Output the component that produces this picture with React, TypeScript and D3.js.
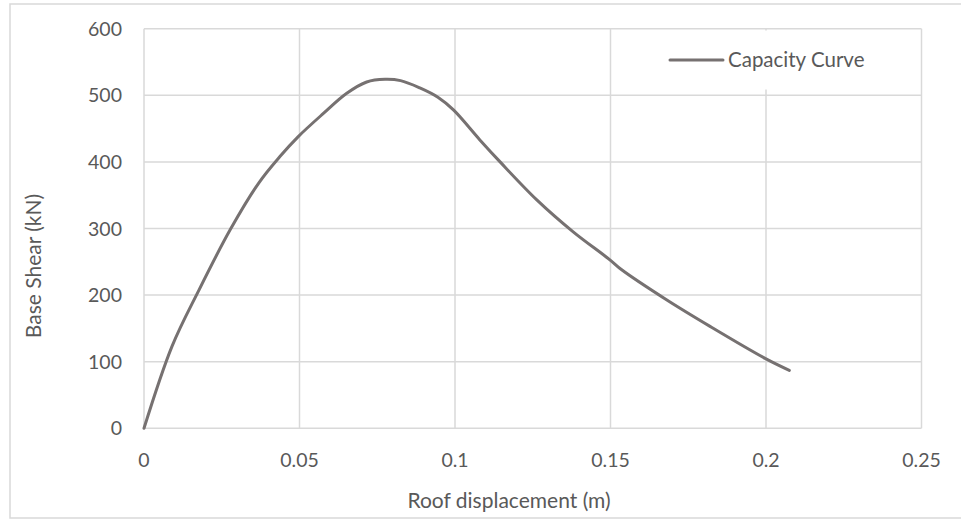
import * as d3 from 'd3';

const W = 961;
const H = 519;
const margin = { top: 28.7, right: 39.5, bottom: 90.7, left: 144 };

// roof displacement (m) and base shear (kN)
const disp = [0, 0.009, 0.0175, 0.0277, 0.037, 0.0437, 0.0496, 0.0575, 0.0652, 0.0716, 0.0775, 0.0825, 0.0887, 0.0945, 0.0995, 0.108, 0.1145, 0.1263, 0.138, 0.1498, 0.1536, 0.168, 0.182, 0.1997, 0.2075];
const shear = [0, 123, 206, 298, 369, 408, 438, 472, 503, 520, 524, 522, 511, 497, 478, 433, 400, 343, 295, 253, 238, 193, 153, 105, 87];

const xTicks = [0, 0.05, 0.1, 0.15, 0.2, 0.25];
const yTicks = [0, 100, 200, 300, 400, 500, 600];
const seriesName = 'Capacity Curve';

const font = 'Lato, "Open Sans", sans-serif';
const textCol = '#595959';
const gridCol = '#d9d9d9';
const lineCol = '#767171';

export default function App() {
  const x = d3.scaleLinear().domain([0, 0.25]).range([margin.left, W - margin.right]);
  const y = d3.scaleLinear().domain([0, 600]).range([H - margin.bottom, margin.top]);

  const pts = disp.map((d, i) => [d, shear[i]] as [number, number]);
  const line = d3
    .line<[number, number]>()
    .x((d) => x(d[0]))
    .y((d) => y(d[1]))
    .curve(d3.curveCatmullRom.alpha(0.5));

  return (
    <svg
      width={W}
      height={H}
      style={{ position: 'absolute', left: 0, top: 0, background: '#fff' }}
      fontFamily={font}
    >
      <rect x={10} y={4} width={W} height={514} fill="#fff" stroke={gridCol} strokeWidth={1.5} />

      <g className="grid">
        {yTicks.map((t) => (
          <line key={'y' + t} x1={x(0)} x2={x(0.25)} y1={y(t)} y2={y(t)} stroke={gridCol} strokeWidth={1.5} />
        ))}
        {xTicks.map((t) => (
          <line key={'x' + t} x1={x(t)} x2={x(t)} y1={y(0)} y2={y(600)} stroke={gridCol} strokeWidth={1.5} />
        ))}
      </g>

      <g className="y-labels" fontSize={19.5} fill={textCol} textAnchor="end">
        {yTicks.map((t) => (
          <text key={t} x={x(0) - 22} y={y(t)} dy="0.36em">
            {t}
          </text>
        ))}
      </g>
      <g className="x-labels" fontSize={19.5} fill={textCol} textAnchor="middle">
        {xTicks.map((t) => (
          <text key={t} x={x(t)} y={467}>
            {t}
          </text>
        ))}
      </g>

      <text x={509} y={508} fontSize={21} fill={textCol} textAnchor="middle">
        Roof displacement (m)
      </text>
      <text
        transform="translate(41,266) rotate(-90)"
        fontSize={21}
        fill={textCol}
        textAnchor="middle"
      >
        Base Shear (kN)
      </text>

      <path d={line(pts) || ''} fill="none" stroke={lineCol} strokeWidth={3} strokeLinejoin="round" strokeLinecap="round" />

      <g className="legend">
        <rect x={662} y={30.5} width={222} height={59} fill="#fff" />
        <line x1={670} x2={723} y1={60} y2={60} stroke={lineCol} strokeWidth={3} strokeLinecap="round" />
        <text x={728} y={67} fontSize={20.5} fill={textCol}>
          {seriesName}
        </text>
      </g>
    </svg>
  );
}
